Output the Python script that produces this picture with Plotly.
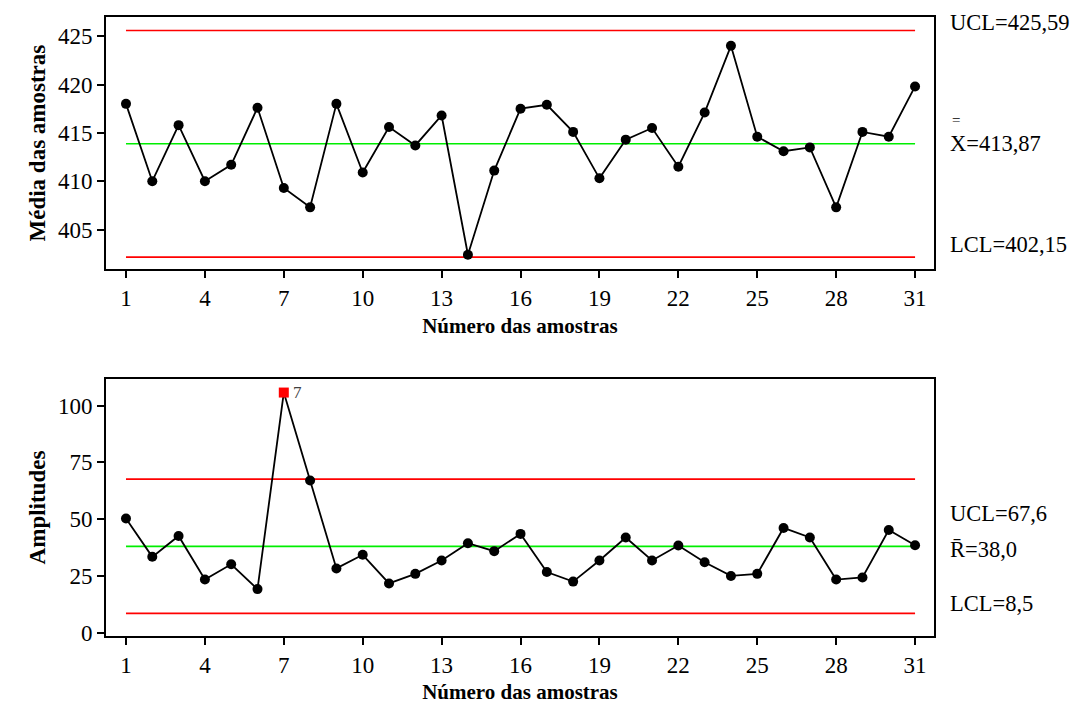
import plotly.graph_objects as go

# ---------------- data ----------------
samples = list(range(1, 32))
xbar_values = [418.0, 410.0, 415.8, 410.0, 411.7, 417.6, 409.3, 407.3, 418.0, 410.9,
               415.6, 413.7, 416.8, 402.4, 411.1, 417.5, 417.9, 415.1, 410.3, 414.3,
               415.5, 411.5, 417.1, 424.0, 414.6, 413.1, 413.5, 407.3, 415.1, 414.6,
               419.8]
range_values = [50.3, 33.4, 42.6, 23.4, 30.1, 19.2, 105.7, 67.0, 28.3, 34.3,
                21.7, 25.9, 31.8, 39.4, 35.9, 43.5, 26.7, 22.5, 31.8, 41.9,
                31.8, 38.4, 31.0, 25.0, 25.9, 46.1, 41.9, 23.4, 24.3, 45.2,
                38.5]
xbar_limits = {"UCL": 425.59, "CL": 413.87, "LCL": 402.15}
r_limits = {"UCL": 67.6, "CL": 38.0, "LCL": 8.5}
xbar_labels = {"UCL": "UCL=425,59", "CL": "X=413,87", "LCL": "LCL=402,15"}
r_labels = {"UCL": "UCL=67,6", "CL": "R\u0304=38,0", "LCL": "LCL=8,5"}
out_of_control_r = [7]
xbar_ticks = [405, 410, 415, 420, 425]
r_ticks = [0, 25, 50, 75, 100]
x_ticks = list(range(1, 32, 3))
y_title_top = "Média das amostras"
y_title_bottom = "Amplitudes"
x_title = "Número das amostras"

# ---------------- figure ----------------
FONT = "Liberation Serif"
fig = go.Figure()

def add_limits(yaxis, xaxis, limits):
    for key, col in (("UCL", "#ff0000"), ("LCL", "#ff0000"), ("CL", "#00ee00")):
        fig.add_trace(go.Scatter(x=samples, y=[limits[key]] * len(samples), mode="lines",
                                 line=dict(color=col, width=1.6), hoverinfo="skip",
                                 xaxis=xaxis, yaxis=yaxis, showlegend=False))

add_limits("y", "x", xbar_limits)
add_limits("y2", "x2", r_limits)

fig.add_trace(go.Scatter(x=samples, y=xbar_values, mode="lines+markers",
                         line=dict(color="black", width=1.8),
                         marker=dict(color="black", size=10),
                         xaxis="x", yaxis="y", showlegend=False))

r_colors = ["#ff0000" if s in out_of_control_r else "black" for s in samples]
r_symbols = ["square" if s in out_of_control_r else "circle" for s in samples]
fig.add_trace(go.Scatter(x=samples, y=range_values, mode="lines+markers",
                         line=dict(color="black", width=1.8),
                         marker=dict(color=r_colors, size=10, symbol=r_symbols),
                         xaxis="x2", yaxis="y2", showlegend=False, cliponaxis=False))

axis_common = dict(showline=True, linecolor="black", linewidth=2, mirror=True,
                   ticks="outside", ticklen=7, tickwidth=1.5, tickcolor="black",
                   showgrid=False, zeroline=False,
                   tickfont=dict(family=FONT, size=23, color="black"))

xr = [0.24, 31.72]
W, H = 1073, 699
ML, MR, MT, MB = 98, 147, 7, 68
fig.update_layout(
    width=W, height=H,
    margin=dict(l=ML, r=MR, t=MT, b=MB),
    paper_bgcolor="white", plot_bgcolor="white",
    font=dict(family=FONT, color="black"),
    xaxis=dict(domain=[0, 1], anchor="y", range=xr, tickvals=x_ticks,
               title=dict(text=x_title, font=dict(family=FONT, size=21, weight="bold"), standoff=8),
               **axis_common),
    yaxis=dict(domain=[0.5925, 1], anchor="x", range=[400.9, 426.98], tickvals=xbar_ticks,
               title=dict(text=y_title_top, font=dict(family=FONT, size=23, weight="bold"), standoff=6),
               **axis_common),
    xaxis2=dict(domain=[0, 1], anchor="y2", range=xr, tickvals=x_ticks,
                title=dict(text=x_title, font=dict(family=FONT, size=21, weight="bold"), standoff=8),
                **axis_common),
    yaxis2=dict(domain=[0, 0.4151], anchor="x2", range=[-1.44, 111.64], tickvals=r_ticks,
                title=dict(text=y_title_bottom, font=dict(family=FONT, size=23, weight="bold"), standoff=6),
                **axis_common),
)

plot_w = W - ML - MR
label_x = 1.0 + 14 / plot_w
bar_x = label_x + 8 / plot_w
ann = []
top_shifts = {"UCL": 8, "CL": 0, "LCL": 13}
bot_shifts = {"UCL": -34, "CL": -3, "LCL": 10}
for key in ("UCL", "CL", "LCL"):
    ann.append(dict(xref="paper", yref="y", x=label_x, y=xbar_limits[key], text=xbar_labels[key],
                    xanchor="left", yanchor="middle", showarrow=False, yshift=top_shifts[key],
                    font=dict(family=FONT, size=22.5, color="black")))
    ann.append(dict(xref="paper", yref="y2", x=label_x, y=r_limits[key], text=r_labels[key],
                    xanchor="left", yanchor="middle", showarrow=False, yshift=bot_shifts[key],
                    font=dict(family=FONT, size=22.5, color="black")))
# double bar over X
ann.append(dict(xref="paper", yref="y", x=bar_x, y=xbar_limits["CL"], text="=",
                xanchor="center", yanchor="middle", showarrow=False, yshift=24,
                font=dict(family=FONT, size=15, color="black")))
for s in out_of_control_r:
    ann.append(dict(xref="x2", yref="y2", x=s, y=range_values[s - 1], text=str(s),
                    xanchor="left", yanchor="middle", showarrow=False, xshift=7,
                    font=dict(family=FONT, size=17, color="#404040")))
fig.update_layout(annotations=ann)

fig.write_html("out.html")
